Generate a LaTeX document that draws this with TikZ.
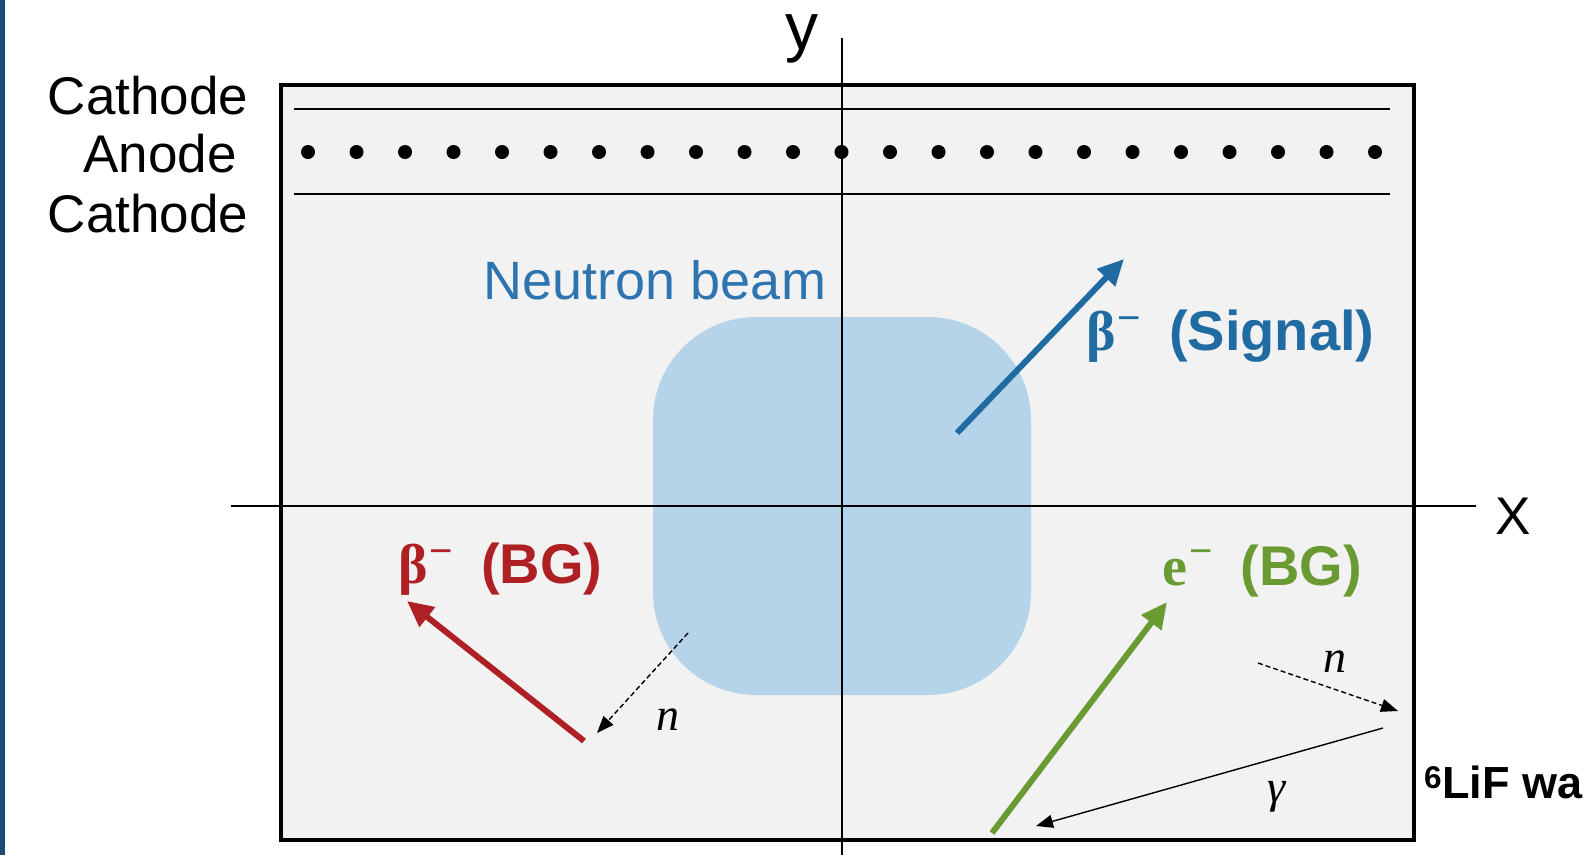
\documentclass[tikz,border=0pt]{standalone}
\usepackage{fontspec}
\setmainfont{Liberation Sans}
\newfontfamily\serifb{Liberation Serif}
\usetikzlibrary{arrows.meta}
\definecolor{boxgray}{HTML}{F2F2F2}
\definecolor{beamblue}{HTML}{B5D4EA}
\definecolor{beamtext}{HTML}{2E74B0}
\definecolor{sigblue}{HTML}{216BA3}
\definecolor{bgred}{HTML}{AF2024}
\definecolor{bggreen}{HTML}{6A9A32}
\definecolor{sidebar}{HTML}{1B4B72}
\newcommand{\partlab}[3]{{\fontsize{56}{60}\selectfont\serifb\bfseries #1}\hspace{2pt}\raisebox{#3pt}{\fontsize{40}{40}\selectfont −}\hspace{28pt}{\fontsize{56}{60}\selectfont\bfseries #2}}
\begin{document}
\begin{tikzpicture}[x=1pt,y=-1pt,
  bigtxt/.style={font=\fontsize{53}{60}\selectfont, inner sep=0pt},
  thickarrow/.style={line width=6pt, -{Triangle[length=26pt,width=24pt]}},
  thinarrow/.style={line width=1.4pt, -{Triangle[length=17pt,width=13pt]}},
  dotnode/.style={circle, fill=black, inner sep=0pt, minimum size=14pt},
  mathlab/.style={font=\fontsize{46}{50}\selectfont\serifb\itshape, inner sep=0pt}]
\useasboundingbox (0,0) rectangle (1590,855);
\fill[white] (0,0) rectangle (1590,855);
\fill[sidebar] (0,0) rectangle (5,855);
% chamber box
\node[draw, line width=3.5pt, fill=boxgray, minimum width=1133pt, minimum height=755pt, inner sep=0pt, outer sep=0pt, anchor=north west] (box) at (281,85) {};
% neutron beam
\node[fill=beamblue, rounded corners=103pt, minimum width=378pt, minimum height=378pt, inner sep=0pt] (beam) at (842,506) {};
% cathode / anode wires
\draw[line width=1.4pt] (294,109) -- (1390,109);
\draw[line width=1.4pt] (294,194) -- (1390,194);
\foreach \i in {0,...,22} {
  \node[dotnode] (d\i) at (308+48.5*\i,152) {};
}
% axes
\draw[line width=2.8pt] (231,506) -- (1476,506);
\draw[line width=2.8pt] (842,38) -- (842,855);
\node[font=\fontsize{66}{66}\selectfont, inner sep=0pt, anchor=base] (ylab) at (802,49) {y};
\node[bigtxt, anchor=center] (xlab) at (1513,516) {X};
% left labels
\node[bigtxt] (cath1) at (148,96) {Cathode};
\node[bigtxt] (anode) at (160,154) {Anode};
\node[bigtxt] (cath2) at (148,214) {Cathode};
% beam label
\node[font=\fontsize{54}{60}\selectfont, text=beamtext, inner sep=0pt] (beamlab) at (655,280) {Neutron beam};
% signal arrow
\coordinate (sigS) at (957,433);
\coordinate (sigE) at (1124,259);
\draw[sigblue, thickarrow] (sigS) -- (sigE);
\node[text=sigblue, anchor=base west, inner sep=0pt] (siglab) at (1086,350) {\partlab{β}{(Signal)}{19}};
% red BG arrow
\coordinate (redS) at (584,741);
\coordinate (redE) at (407,601);
\draw[bgred, thickarrow] (redS) -- (redE);
\node[text=bgred, anchor=base west, inner sep=0pt] (redlab) at (398,583) {\partlab{β}{(BG)}{19}};
% green BG arrow
\coordinate (grnS) at (992,833);
\coordinate (grnE) at (1167,602);
\draw[bggreen, thickarrow] (grnS) -- (grnE);
\node[text=bggreen, anchor=base west, inner sep=0pt] (grnlab) at (1162,585) {\partlab{e}{(BG)}{21}};
% neutron (left)
\coordinate (n1S) at (688,633);
\coordinate (n1E) at (597,733);
\draw[thinarrow, dash pattern=on 5pt off 3pt] (n1S) -- (n1E);
\node[mathlab] (n1lab) at (668,720) {n};
% neutron (right)
\coordinate (n2S) at (1258,663);
\coordinate (n2E) at (1398,711);
\draw[thinarrow, dash pattern=on 5pt off 3pt] (n2S) -- (n2E);
\node[mathlab] (n2lab) at (1335,662) {n};
% gamma
\coordinate (gS) at (1383,728);
\coordinate (gE) at (1036,826);
\draw[thinarrow] (gS) -- (gE);
\node[mathlab] (glab) at (1277,797) {γ};
% LiF wall label
\node[font=\fontsize{45}{50}\selectfont\bfseries, inner sep=0pt, anchor=base west] (lif) at (1424,798) {\textsuperscript{6}LiF wa};
\end{tikzpicture}
\end{document}
